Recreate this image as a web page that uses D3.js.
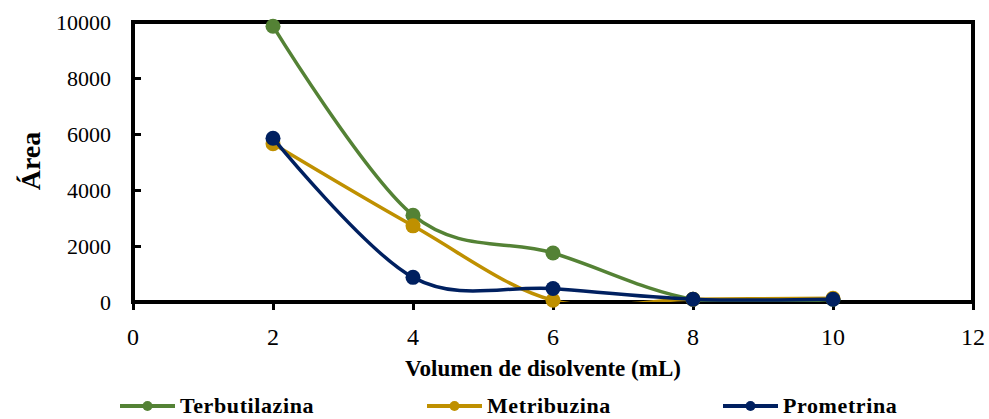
<!DOCTYPE html>
<html><head><meta charset="utf-8">
<script src="https://cdn.jsdelivr.net/npm/d3@7"></script>
<style>body{margin:0;background:#fff}svg{display:block}</style>
</head><body><svg id="c" width="989" height="419"></svg>
<script>
const xValues = [2, 4, 6, 8, 10];
const seriesNames = ["Terbutilazina", "Metribuzina", "Prometrina"];
const terbutilazina = [9850, 3100, 1750, 100, 100];
const metribuzina = [5650, 2720, 60, 100, 130];
const prometrina = [5850, 880, 480, 100, 100];
const xTicks = [0, 2, 4, 6, 8, 10, 12];
const yTicks = [0, 2000, 4000, 6000, 8000, 10000];
const colors = ["#548235", "#BF9000", "#002060"];
const allSeries = [terbutilazina, metribuzina, prometrina];
const FF = "'Times New Roman', 'Liberation Serif', Tinos, 'Noto Serif', 'DejaVu Serif', serif";

const svg = d3.select("#c");
const L = 133, R = 973, T = 22, B = 302;
const x = d3.scaleLinear().domain([0, 12]).range([L, R]);
const y = d3.scaleLinear().domain([0, 10000]).range([B, T]);

svg.append("defs").append("clipPath").attr("id", "plotclip")
  .append("rect").attr("x", L).attr("y", T).attr("width", R - L).attr("height", B - T);

// y axis (ticks inside)
const ya = svg.append("g").attr("transform", `translate(${L},0)`)
  .call(d3.axisRight(y).tickValues(yTicks).tickSize(8).tickFormat(""));
ya.select(".domain").remove();
ya.selectAll("line").attr("stroke", "#000").attr("stroke-width", 3);
svg.append("g").selectAll("text").data(yTicks).join("text")
  .style("font-family", FF)
  .attr("x", 111).attr("y", d => y(d)).attr("dy", "0.35em")
  .attr("text-anchor", "end").attr("font-size", 22).text(d => d);

// x axis (ticks outside)
const xa = svg.append("g").attr("transform", `translate(0,${B})`)
  .call(d3.axisBottom(x).tickValues(xTicks).tickSize(8).tickFormat(""));
xa.select(".domain").remove();
xa.selectAll("line").attr("stroke", "#000").attr("stroke-width", 3);
svg.append("g").selectAll("text").data(xTicks).join("text")
  .style("font-family", FF)
  .attr("x", d => x(d)).attr("y", 345)
  .attr("text-anchor", "middle").attr("font-size", 24).text(d => d);

// frame
svg.append("rect").attr("x", L).attr("y", T).attr("width", R - L).attr("height", B - T)
  .attr("fill", "none").attr("stroke", "#000").attr("stroke-width", 4);

// titles
svg.append("text").attr("transform", "translate(40,161) rotate(-90)")
  .style("font-family", FF)
  .attr("text-anchor", "middle").attr("font-size", 28).attr("font-weight", "bold").text("Área");
svg.append("text").attr("x", 543).attr("y", 376).attr("text-anchor", "middle")
  .style("font-family", FF)
  .attr("font-size", 23).attr("font-weight", "bold").text("Volumen de disolvente (mL)");

// series
const line = d3.line().x(d => x(d[0])).y(d => y(d[1])).curve(d3.curveCardinal.tension(0));
allSeries.forEach((vals, i) => {
  const pts = xValues.map((xv, j) => [xv, vals[j]]);
  const g = svg.append("g");
  g.append("path").attr("d", line(pts)).attr("fill", "none")
    .attr("clip-path", "url(#plotclip)")
    .attr("stroke", colors[i]).attr("stroke-width", 3.5);
  g.selectAll("circle").data(pts).join("circle")
    .attr("cx", d => x(d[0])).attr("cy", d => y(d[1])).attr("r", 7.5).attr("fill", colors[i]);
});

// legend
const legX = [120, 427, 723];
seriesNames.forEach((n, i) => {
  const g = svg.append("g").attr("transform", `translate(${legX[i]},406)`);
  g.append("line").attr("x1", 0).attr("x2", 55).attr("y1", 0).attr("y2", 0)
    .attr("stroke", colors[i]).attr("stroke-width", 4);
  g.append("circle").attr("cx", 27.5).attr("cy", 0).attr("r", 5).attr("fill", colors[i]);
  g.append("text").attr("x", 60).attr("y", 7).attr("font-size", 22)
    .style("font-family", FF)
    .attr("font-weight", "bold").attr("letter-spacing", 0.6).text(n);
});
</script></body></html>
